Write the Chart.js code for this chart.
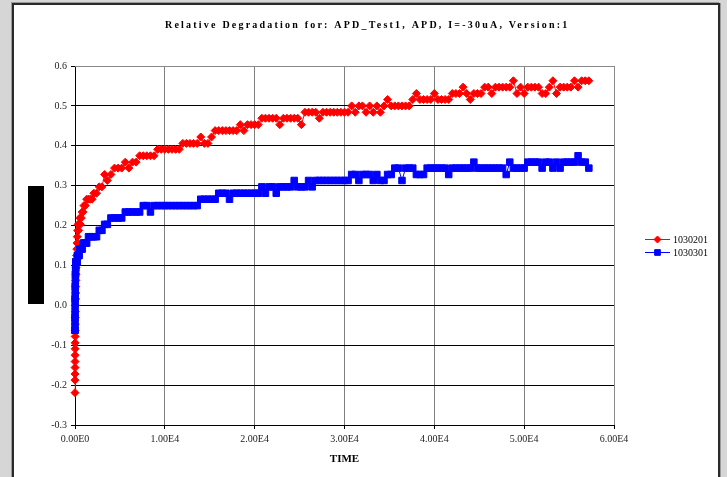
<!DOCTYPE html>
<html>
<head>
<meta charset="utf-8">
<script src="https://cdn.jsdelivr.net/npm/chart.js@4.4.1/dist/chart.umd.min.js"></script>
<style>
  html, body { margin: 0; padding: 0; }
  body { width: 727px; height: 477px; background: #d6d6d6; position: relative; overflow: hidden; }
  #frame { position: absolute; left: 12px; top: 3px; width: 704px; height: 490px; background: #fff;
           border-left: 2px solid #2a2a2a; border-top: 2px solid #2a2a2a; border-right: 2px solid #2a2a2a;
           box-shadow: -1px -1px 0 #9a9a9a, 1px 0 0 #9a9a9a; }
  #wrap { position: absolute; left: 0; top: 0; width: 727px; height: 477px; }
</style>
</head>
<body>
<div id="frame"></div>
<div id="wrap"><canvas id="c" width="727" height="477"></canvas></div>
<script>
const chartTitle = 'Relative Degradation for: APD_Test1, APD, I=-30uA, Version:1';
const xTitle = 'TIME';
const seriesNames = ['1030201', '1030301'];
const yTicks = [-0.3, -0.2, -0.1, 0.0, 0.1, 0.2, 0.3, 0.4, 0.5, 0.6];
const xTicks = [0, 10000, 20000, 30000, 40000, 50000, 60000];

const times = [
  0, 2, 4, 6, 8, 10, 13, 16, 20, 25,
  30, 36, 43, 50, 60, 70, 80, 95, 110, 130,
  150, 175, 200, 230, 260, 300, 350, 400, 460, 530,
  600, 700, 800, 900, 1000, 1150, 1300, 1500, 1700, 1900,
  2100, 2400, 2700, 3000, 3300, 3600,
  4000, 4400, 4800, 5200, 5600, 6000, 6400, 6800, 7200, 7600,
  8000, 8400, 8800, 9200, 9600, 10000, 10400, 10800, 11200, 11600,
  12000, 12400, 12800, 13200, 13600, 14000, 14400, 14800, 15200, 15600,
  16000, 16400, 16800, 17200, 17600, 18000, 18400, 18800, 19200, 19600,
  20000, 20400, 20800, 21200, 21600, 22000, 22400, 22800, 23200, 23600,
  24000, 24400, 24800, 25200, 25600, 26000, 26400, 26800, 27200, 27600,
  28000, 28400, 28800, 29200, 29600, 30000, 30400, 30800, 31200, 31600,
  32000, 32400, 32800, 33200, 33600, 34000, 34400, 34800, 35200, 35600,
  36000, 36400, 36800, 37200, 37600, 38000, 38400, 38800, 39200, 39600,
  40000, 40400, 40800, 41200, 41600, 42000, 42400, 42800, 43200, 43600,
  44000, 44400, 44800, 45200, 45600, 46000, 46400, 46800, 47200, 47600,
  48000, 48400, 48800, 49200, 49600, 50000, 50400, 50800, 51200, 51600,
  52000, 52400, 52800, 53200, 53600, 54000, 54400, 54800, 55200, 55600,
  56000, 56400, 56800, 57200
];

const red1030201 = [
  -0.219, -0.1875, -0.172, -0.156, -0.141, -0.125, -0.109, -0.094, -0.078, -0.0625,
  -0.047, -0.031, -0.016, 0.0, 0.016, 0.031, 0.047, 0.0625, 0.078, 0.094,
  0.109, 0.125, 0.141, 0.156, 0.172, 0.1875, 0.203, 0.188, 0.203, 0.219,
  0.203, 0.219, 0.234, 0.234, 0.25, 0.25, 0.266, 0.266, 0.266, 0.266,
  0.281, 0.281, 0.297, 0.297, 0.328, 0.313,
  0.328, 0.344, 0.344, 0.344, 0.359, 0.344, 0.359, 0.359, 0.375, 0.375,
  0.375, 0.375, 0.375, 0.391, 0.391, 0.391, 0.391, 0.391, 0.391, 0.391,
  0.406, 0.406, 0.406, 0.406, 0.406, 0.422, 0.406, 0.406, 0.422, 0.438,
  0.438, 0.438, 0.438, 0.438, 0.438, 0.438, 0.453, 0.438, 0.453, 0.453,
  0.453, 0.453, 0.469, 0.469, 0.469, 0.469, 0.469, 0.453, 0.469, 0.469,
  0.469, 0.469, 0.469, 0.453, 0.484, 0.484, 0.484, 0.484, 0.469, 0.484,
  0.484, 0.484, 0.484, 0.484, 0.484, 0.484, 0.484, 0.5, 0.484, 0.5,
  0.5, 0.484, 0.5, 0.484, 0.5, 0.484, 0.5, 0.516, 0.5, 0.5,
  0.5, 0.5, 0.5, 0.5, 0.516, 0.531, 0.516, 0.516, 0.516, 0.516,
  0.531, 0.516, 0.516, 0.516, 0.516, 0.531, 0.531, 0.531, 0.547, 0.531,
  0.516, 0.531, 0.531, 0.531, 0.547, 0.547, 0.531, 0.547, 0.547, 0.547,
  0.547, 0.547, 0.563, 0.531, 0.547, 0.531, 0.547, 0.547, 0.547, 0.547,
  0.531, 0.531, 0.547, 0.563, 0.531, 0.547, 0.547, 0.547, 0.547, 0.563,
  0.547, 0.563, 0.563, 0.563
];

const blue1030301 = [
  -0.0625, -0.0625, -0.047, -0.031, -0.031, -0.016, 0.0, 0.016, 0.016, 0.031,
  0.047, 0.047, 0.0625, 0.078, 0.078, 0.094, 0.094, 0.109, 0.109, 0.109,
  0.109, 0.109, 0.109, 0.109, 0.125, 0.125, 0.125, 0.125, 0.125, 0.141,
  0.141, 0.141, 0.141, 0.156, 0.156, 0.156, 0.156, 0.172, 0.172, 0.172,
  0.172, 0.172, 0.188, 0.188, 0.203, 0.203,
  0.219, 0.219, 0.219, 0.219, 0.234, 0.234, 0.234, 0.234, 0.234, 0.25,
  0.25, 0.234, 0.25, 0.25, 0.25, 0.25, 0.25, 0.25, 0.25, 0.25,
  0.25, 0.25, 0.25, 0.25, 0.25, 0.266, 0.266, 0.266, 0.266, 0.266,
  0.281, 0.281, 0.281, 0.266, 0.281, 0.281, 0.281, 0.281, 0.281, 0.281,
  0.281, 0.281, 0.297, 0.281, 0.297, 0.297, 0.281, 0.297, 0.297, 0.297,
  0.297, 0.313, 0.297, 0.297, 0.297, 0.313, 0.297, 0.313, 0.313, 0.313,
  0.313, 0.313, 0.313, 0.313, 0.313, 0.313, 0.313, 0.328, 0.328, 0.313,
  0.328, 0.328, 0.328, 0.313, 0.328, 0.313, 0.313, 0.328, 0.328, 0.344,
  0.344, 0.313, 0.344, 0.344, 0.344, 0.328, 0.328, 0.328, 0.344, 0.344,
  0.344, 0.344, 0.344, 0.344, 0.328, 0.344, 0.344, 0.344, 0.344, 0.344,
  0.344, 0.359, 0.344, 0.344, 0.344, 0.344, 0.344, 0.344, 0.344, 0.344,
  0.328, 0.359, 0.344, 0.344, 0.344, 0.344, 0.359, 0.359, 0.359, 0.359,
  0.344, 0.359, 0.359, 0.344, 0.359, 0.344, 0.359, 0.359, 0.359, 0.359,
  0.375, 0.359, 0.359, 0.344
];

const SERIF = '"Liberation Serif", "Times New Roman", serif';

function pts(vals) { return times.map((t, i) => ({ x: t, y: vals[i] })); }

const extras = {
  id: 'extras',
  beforeDatasetsDraw(chart) {
    const a = chart.chartArea, ctx = chart.ctx;
    ctx.save();
    ctx.strokeStyle = '#8a8a8a';
    ctx.lineWidth = 1;
    ctx.beginPath();
    ctx.moveTo(a.left, a.top + 0.5);
    ctx.lineTo(a.right + 0.5, a.top + 0.5);
    ctx.lineTo(a.right + 0.5, a.bottom);
    ctx.stroke();
    ctx.restore();
  },
  afterDraw(chart) {
    const ctx = chart.ctx;
    ctx.save();
    ctx.font = 'bold 10px ' + SERIF;
    ctx.fillStyle = '#000';
    ctx.textBaseline = 'middle';
    ctx.textAlign = 'left';
    const w0 = ctx.measureText(chartTitle).width;
    const target = 402;
    const sp = (target - w0) / (chartTitle.length - 1);
    ctx.letterSpacing = sp.toFixed(2) + 'px';
    ctx.fillText(chartTitle, 366 - target / 2, 25);
    ctx.letterSpacing = '0px';

    ctx.fillStyle = '#000';
    ctx.fillRect(28, 186, 16, 118);

    const ys = [239, 252];
    chart.data.datasets.forEach((ds, i) => {
      const y = ys[i];
      ctx.strokeStyle = ds.borderColor;
      ctx.lineWidth = 1;
      ctx.beginPath();
      ctx.moveTo(645, y + 0.5);
      ctx.lineTo(670, y + 0.5);
      ctx.stroke();
      ctx.fillStyle = ds.backgroundColor;
      Chart.helpers.drawPoint(ctx, {
        pointStyle: ds.pointStyle, radius: ds.legendRadius, rotation: 0, borderWidth: 1
      }, 657.5, y + 0.5);
      ctx.fillStyle = '#000';
      ctx.font = '10px ' + SERIF;
      ctx.textAlign = 'left';
      ctx.textBaseline = 'middle';
      ctx.fillText(ds.label, 673, y + 1);
    });
    ctx.restore();
  }
};

new Chart(document.getElementById('c'), {
  type: 'scatter',
  data: {
    datasets: [
      {
        label: seriesNames[0],
        data: pts(red1030201),
        showLine: true,
        clip: false,
        borderColor: '#ff0000',
        backgroundColor: '#ff0000',
        borderWidth: 1,
        pointStyle: 'rectRot',
        pointRadius: 4,
        legendRadius: 3.5,
        pointBorderWidth: 1,
        order: 1
      },
      {
        label: seriesNames[1],
        data: pts(blue1030301),
        showLine: true,
        clip: false,
        borderColor: '#0000ff',
        backgroundColor: '#0000ff',
        borderWidth: 1,
        pointStyle: 'rect',
        pointRadius: 4.6,
        legendRadius: 4,
        pointBorderWidth: 1,
        order: 0
      }
    ]
  },
  plugins: [extras],
  options: {
    responsive: false,
    animation: false,
    events: [],
    layout: { padding: { left: 0, right: 113, top: 66, bottom: 0 } },
    plugins: {
      legend: { display: false },
      title: { display: false },
      tooltip: { enabled: false }
    },
    scales: {
      x: {
        type: 'linear',
        min: 0, max: 60000,
        afterBuildTicks(scale) { scale.ticks = xTicks.map(v => ({ value: v })); },
        afterFit(scale) { scale.height = 52; },
        ticks: {
          font: { family: SERIF, size: 10 },
          color: '#222',
          padding: 4,
          maxRotation: 0,
          callback: v => {
            if (v === 0) return '0.00E0';
            const e = Math.floor(Math.log10(Math.abs(v)));
            return (v / Math.pow(10, e)).toFixed(2) + 'E' + e;
          }
        },
        grid: { color: '#7f7f7f', lineWidth: 1, tickLength: 4, tickColor: '#000' },
        border: { color: '#000', width: 1 },
        title: {
          display: true, text: xTitle, color: '#000',
          font: { family: SERIF, size: 11, weight: 'bold' },
          padding: { top: 0, bottom: 11 }
        }
      },
      y: {
        type: 'linear',
        min: -0.3, max: 0.6,
        afterBuildTicks(scale) { scale.ticks = yTicks.map(v => ({ value: v })); },
        afterFit(scale) { scale.width = 75; },
        ticks: {
          font: { family: SERIF, size: 10 },
          color: '#222',
          padding: 4,
          callback: v => v.toFixed(1)
        },
        grid: {
          color: ctx => (ctx.tick && Math.abs(ctx.tick.value - 0.6) < 1e-9) ? '#8a8a8a' : '#000',
          lineWidth: 1, tickLength: 4, tickColor: '#000'
        },
        border: { color: '#000', width: 1 }
      }
    }
  }
});
</script>
</body>
</html>
